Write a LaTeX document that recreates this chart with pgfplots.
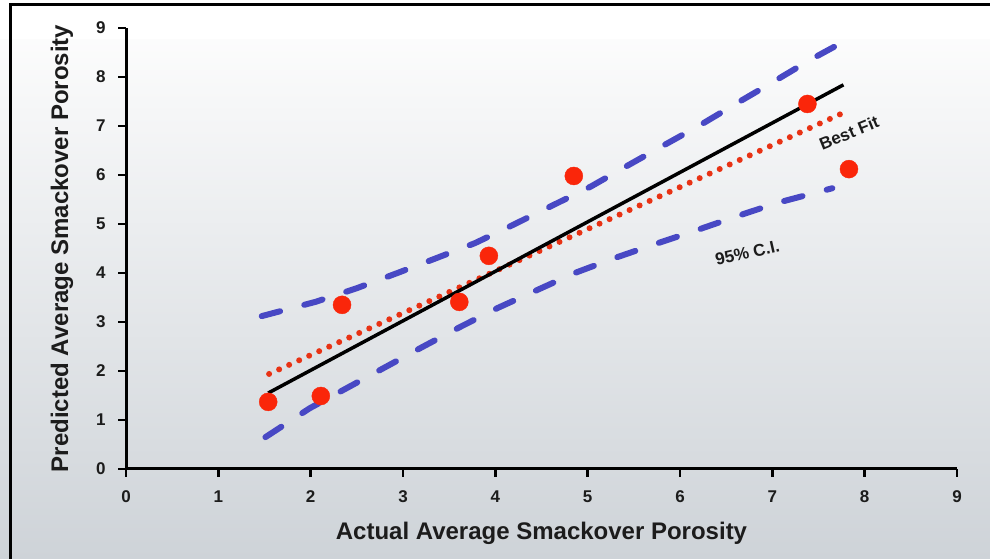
\documentclass[border=0pt]{standalone}
\usepackage{fontspec}
\setmainfont{Liberation Sans}
\usepackage{pgfplots}
\pgfplotsset{compat=1.18}
\definecolor{ptred}{RGB}{250,38,10}
\definecolor{dotred}{RGB}{232,50,20}
\definecolor{ciblue}{RGB}{72,72,196}
\definecolor{txt}{RGB}{28,28,28}
\definecolor{bgmid}{RGB}{236,238,240}
\definecolor{bgbot}{RGB}{206,211,216}
\begin{document}
\begin{tikzpicture}
\useasboundingbox (0pt,0pt) rectangle (990pt,559pt);
\shade[top color=white, middle color=bgmid, bottom color=bgbot] (0pt,0pt) rectangle (990pt,559pt);
\fill[white] (0pt,520pt) rectangle (990pt,559pt);
\draw[line width=3pt] (10.5pt,0pt) -- (10.5pt,554pt) -- (990pt,554pt);
\begin{axis}[
  at={(126pt,90pt)}, anchor=south west,
  scale only axis, width=831pt, height=441pt,
  xmin=0, xmax=9, ymin=0, ymax=9,
  clip=false,
  axis x line*=bottom, axis y line*=left,
  axis line style={line width=3pt, black},
  tick style={line width=2.5pt, black},
  major tick length=8pt, tick align=outside,
  xtick={0,...,9}, ytick={0,...,9},
  /pgf/number format/assume math mode=true,
  ticklabel style={font=\bfseries\fontsize{17}{17}\selectfont, text=txt},
  xticklabel style={yshift=-10pt},
  yticklabel style={xshift=-9pt},
  xlabel={Actual Average Smackover Porosity},
  ylabel={Predicted Average Smackover Porosity},
  label style={font=\bfseries\fontsize{24}{24}\selectfont, text=txt},
  xlabel style={at={(axis description cs:0.5,0)}, anchor=center, yshift=-64pt},
  ylabel style={at={(axis description cs:0,0.5)}, anchor=center, yshift=64pt},
]
% 95% confidence band (upper)
\addplot[ciblue, line width=6pt, line cap=round, dash pattern=on 19pt off 25pt] coordinates {
 (1.47,3.12)(2.05,3.41)(2.5,3.69)(2.94,4.0)(3.37,4.31)(3.78,4.61)(4.19,4.98)(4.61,5.37)
 (5.03,5.76)(5.44,6.2)(5.79,6.57)(6.22,7.02)(6.62,7.47)(7.01,7.9)(7.41,8.35)(7.81,8.76)};
% 95% confidence band (lower)
\addplot[ciblue, line width=6pt, line cap=round, dash pattern=on 19pt off 25pt] coordinates {
 (1.51,0.65)(1.99,1.24)(2.39,1.65)(2.81,2.08)(3.21,2.49)(3.62,2.9)(4.03,3.29)(4.45,3.65)
 (4.86,4.0)(5.3,4.31)(5.7,4.57)(6.19,4.88)(6.62,5.16)(7.05,5.43)(7.49,5.65)(7.65,5.73)};
% best fit (dotted)
\addplot[dotred, line width=6pt, line cap=round, dash pattern=on 0pt off 11pt] coordinates {(1.55,1.94)(7.77,7.27)};
% 1:1 line
\addplot[black, line width=3.5pt] coordinates {(1.54,1.55)(7.77,7.84)};
% data points
\addplot[only marks, mark=*, mark size=9pt, color=ptred] coordinates {
 (1.54,1.37)(2.11,1.49)(2.34,3.35)(3.61,3.41)(3.93,4.35)(4.85,5.98)(7.38,7.45)(7.83,6.12)};
\node[rotate=22, text=txt, font=\bfseries\fontsize{17}{17}\selectfont] at (axis cs:7.83,6.86) {Best Fit};
\node[rotate=13, text=txt, font=\bfseries\fontsize{17}{17}\selectfont] at (axis cs:6.73,4.41) {95\% C.I.};
\end{axis}
\end{tikzpicture}
\end{document}
